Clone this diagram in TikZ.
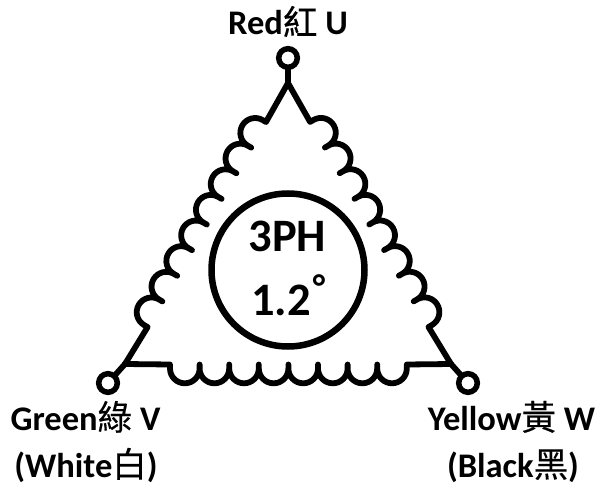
\documentclass[tikz,border=0pt]{standalone}
\usepackage{fontspec}
\setmainfont{Carlito}[BoldFont={Carlito Bold}]
\newfontfamily\cjk{Noto Sans CJK TC}[FakeBold=0.4]
\newcommand{\zh}[1]{{\cjk\mdseries #1}}
\tikzset{
  x=1pt,y=1pt,
  wire/.style={line width=5.8pt,line cap=round,line join=round,black},
  term/.style={circle,draw=black,line width=5.5pt,fill=white,minimum size=18.6pt,inner sep=0pt},
  hub/.style={circle,draw=black,line width=6.5pt,minimum size=153pt,inner sep=0pt},
  lbl/.style={font=\bfseries\fontsize{34.5}{34.5}\selectfont,anchor=base,inner sep=0pt},
  big/.style={font=\bfseries\fontsize{46.5}{46.5}\selectfont,anchor=base,inner sep=0pt},
}
\begin{document}
\begin{tikzpicture}
\useasboundingbox (0,0) rectangle (600,488);
\coordinate (apex) at (288,405);
\coordinate (cL) at (125,124);
\coordinate (cR) at (451,124);
\coordinate (lstart) at (266,366);
\coordinate (bstart) at (170,123.5);
\coordinate (rstart) at (428.5,161);
\node[term] (U) at (288,430) {};
\node[term] (V) at (108,105) {};
\node[term] (W) at (468,105) {};
\node[hub] (H) at (288,218) {};
\draw[wire] (U) -- (apex);
\draw[wire] (V) -- (cL);
\draw[wire] (W) -- (cR);
\draw[wire] (apex) -- (lstart)
  \foreach \i in {1,...,8} { -- ++(150:4) arc[start angle=60,end angle=240,radius=14.8] -- ++(330:4) } -- (cL);
\draw[wire] (cL) -- (bstart)
  \foreach \i in {1,...,8} { -- ++(270:4) arc[start angle=180,end angle=360,radius=14.8] -- ++(90:4) } -- (cR);
\draw[wire] (cR) -- (rstart)
  \foreach \i in {1,...,8} { -- ++(30:4) arc[start angle=300,end angle=480,radius=14.8] -- ++(210:4) } -- (apex);
\node[big] (t1) at (287.5,236) {3PH};
\node[big] (t2) at (281,172) {1.2};
\node[font=\bfseries\fontsize{36}{36}\selectfont,anchor=base,inner sep=0pt] (deg) at (319,188) {°};
\node[lbl] (red) at (288,453) {Red\zh{紅} U};
\node[lbl] (gr) at (85.5,58) {Green\zh{綠} V};
\node[lbl] (wh) at (86,11) {(White\zh{白})};
\node[lbl] (ye) at (511.5,58) {Yellow\zh{黃} W};
\node[lbl] (bl) at (513,11) {(Black\zh{黑})};
\end{tikzpicture}
\end{document}
